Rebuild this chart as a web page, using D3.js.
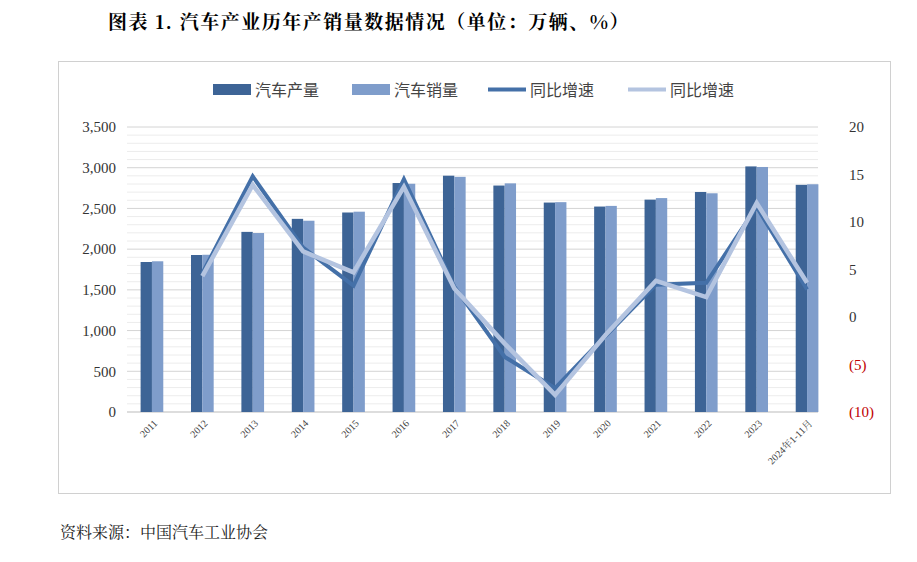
<!DOCTYPE html><html><head><meta charset="utf-8"><script src="https://cdn.jsdelivr.net/npm/d3@7"></script>
<style>body{margin:0;background:#fff;font-family:"Liberation Serif","Noto Serif CJK SC","Noto Sans CJK SC",serif}</style></head><body><svg id="c" width="917" height="562"></svg><script>
const categories=["2011","2012","2013","2014","2015","2016","2017","2018","2019","2020","2021","2022","2023","2024年1-11月"];
const production=[1842,1928,2212,2372,2450,2812,2902,2781,2572,2523,2608,2702,3016,2790];
const sales=[1851,1931,2198,2349,2460,2803,2888,2808,2577,2531,2627,2686,3009,2797];
const prodGrowth=[null,4.6,14.8,7.3,3.3,14.5,3.2,-4.2,-7.5,-2.0,3.4,3.6,11.6,2.9];
const salesGrowth=[null,4.3,13.9,6.9,4.7,13.7,3.0,-2.8,-8.2,-1.9,3.8,2.1,12.0,3.6];
const leftTicks=[0,500,1000,1500,2000,2500,3000,3500];
const rightTicks=[-10,-5,0,5,10,15,20];
const svg=d3.select("#c");
const cjk='"Noto Sans CJK SC",sans-serif';
svg.append("text").attr("x",108).attr("y",29).attr("font-size",19).attr("letter-spacing",1.5).attr("font-weight","bold").attr("font-family",'"Noto Serif CJK SC","Noto Sans CJK SC",serif').text("图表 1. 汽车产业历年产销量数据情况（单位：万辆、%）");
svg.append("rect").attr("x",58.5).attr("y",61.5).attr("width",832).attr("height",432).attr("fill","none").attr("stroke","#d0d0d0");
const L=127,R=832,T=127,B=412,GR=818;
const x=d3.scaleBand().domain(categories).range([L,R]).paddingInner(0.55).paddingOuter(0.27);
const y=d3.scaleLinear().domain([0,3500]).range([B,T]);
const y2=d3.scaleLinear().domain([-10,20]).range([B,T]);
d3.range(100,3501,100).forEach(v=>{if(v%500)svg.append("line").attr("x1",L).attr("x2",GR).attr("y1",y(v)).attr("y2",y(v)).attr("stroke","#ececec");});
leftTicks.forEach(v=>{svg.append("line").attr("x1",L).attr("x2",GR).attr("y1",y(v)).attr("y2",y(v)).attr("stroke",v?"#d4d4d4":"#bbb");});
const ya=svg.append("g").attr("transform",`translate(${L-8},0)`).call(d3.axisLeft(y).tickValues(leftTicks).tickSize(0).tickFormat(d3.format(",")));
ya.select(".domain").remove();ya.selectAll("text").attr("font-size",15).attr("font-family","Liberation Serif").attr("fill","#333");
const yb=svg.append("g").attr("transform",`translate(${GR+28},0)`).call(d3.axisRight(y2).tickValues(rightTicks).tickSize(0).tickFormat(d=>d<0?`(${-d})`:d));
yb.select(".domain").remove();yb.selectAll("text").attr("font-size",15).attr("font-family","Liberation Serif").attr("fill",d=>d<0?"#c00000":"#333");
const bw=x.bandwidth()/2;
svg.selectAll(".p").data(categories).join("rect").attr("x",d=>x(d)).attr("width",bw).attr("y",(d,i)=>y(production[i])).attr("height",(d,i)=>B-y(production[i])).attr("fill","#3d6496");
svg.selectAll(".s").data(categories).join("rect").attr("x",d=>x(d)+bw).attr("width",bw).attr("y",(d,i)=>y(sales[i])).attr("height",(d,i)=>B-y(sales[i])).attr("fill","#7f9dcb");
const cx=d=>x(d)+x.bandwidth()/2;
const line=(arr)=>d3.line().defined(d=>arr[categories.indexOf(d)]!=null).x(cx).y(d=>y2(arr[categories.indexOf(d)]))(categories);
svg.append("path").attr("d",line(prodGrowth)).attr("fill","none").attr("stroke","#4470a8").attr("stroke-width",4);
svg.append("path").attr("d",line(salesGrowth)).attr("fill","none").attr("stroke","#b4c4e0").attr("stroke-width",4.5);
categories.forEach(c=>{svg.append("text").attr("transform",`translate(${cx(c)+6},${B+12}) rotate(-45)`).attr("text-anchor","end").attr("font-size",10).attr("fill","#444").attr("font-family",'"Liberation Serif","Noto Serif CJK SC",serif').text(c);});
const leg=[["汽车产量","rect","#3d6496",213],["汽车销量","rect","#7f9dcb",352],["同比增速","line","#4470a8",488],["同比增速","line","#b4c4e0",628]];
leg.forEach(([t,k,c,lx])=>{if(k=="rect")svg.append("rect").attr("x",lx).attr("y",84).attr("width",38).attr("height",11).attr("fill",c);else svg.append("line").attr("x1",lx).attr("x2",lx+38).attr("y1",89.5).attr("y2",89.5).attr("stroke",c).attr("stroke-width",4);
svg.append("text").attr("x",lx+42).attr("y",95.5).attr("font-size",16).attr("fill","#444").attr("font-family",cjk).text(t);});
svg.append("text").attr("x",60).attr("y",538).attr("font-size",16).attr("fill","#222").attr("font-family",'"Noto Serif CJK SC","Noto Sans CJK SC",serif').text("资料来源：中国汽车工业协会");
</script></body></html>
